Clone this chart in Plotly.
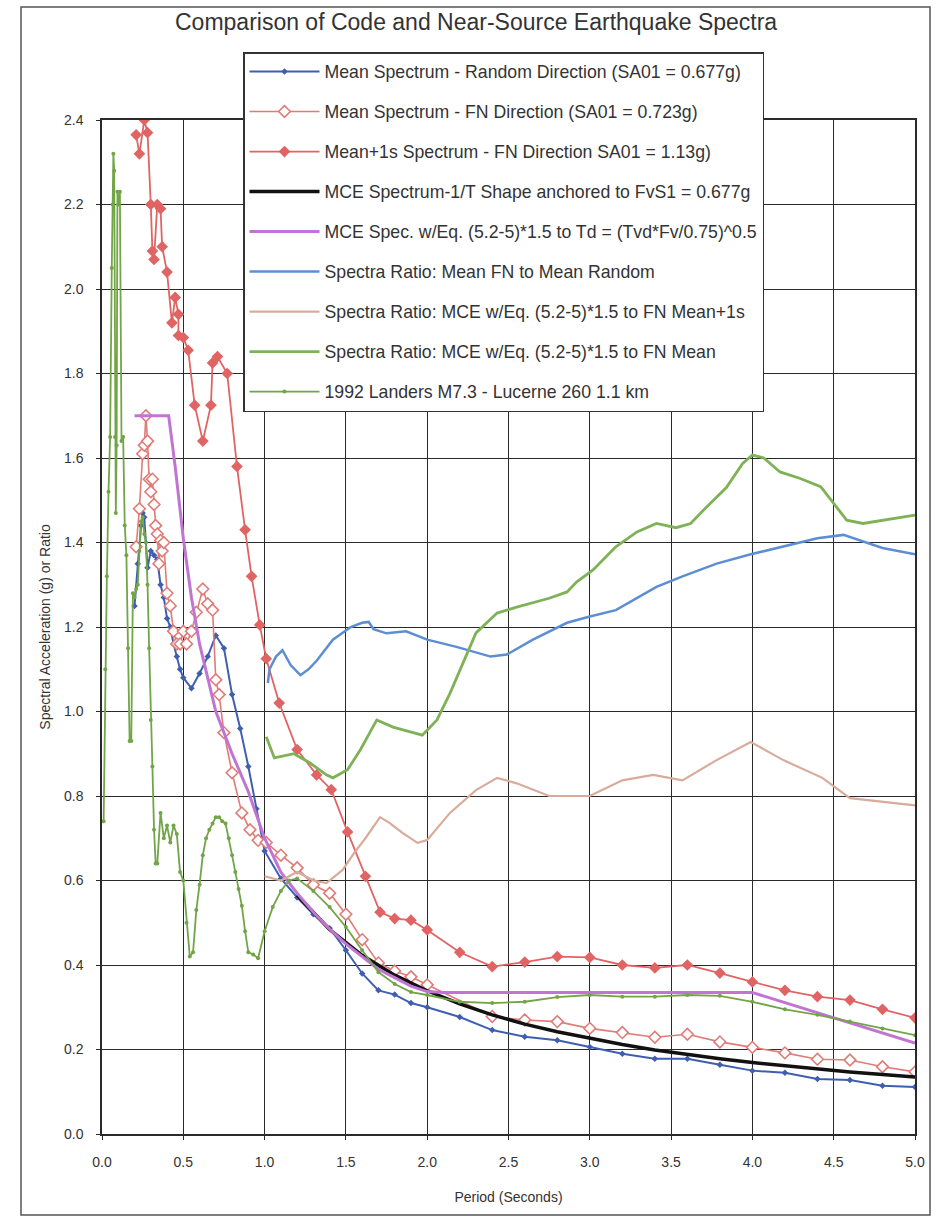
import plotly.graph_objects as go

# ---------------- data ----------------
T_rand = [0.20, 0.22, 0.24, 0.25, 0.26, 0.28, 0.30, 0.32, 0.34, 0.36, 0.38, 0.40, 0.42, 0.44, 0.46, 0.48,
          0.50, 0.55, 0.60, 0.65, 0.70, 0.75, 0.80, 0.85, 0.90, 0.95, 1.0, 1.1, 1.2, 1.3, 1.4, 1.5, 1.6,
          1.7, 1.8, 1.9, 2.0, 2.2, 2.4, 2.6, 2.8, 3.0, 3.2, 3.4, 3.6, 3.8, 4.0, 4.2, 4.4, 4.6, 4.8, 5.0]
SA_rand = [1.25, 1.35, 1.44, 1.47, 1.46, 1.34, 1.38, 1.37, 1.36, 1.30, 1.27, 1.22, 1.20, 1.16, 1.13, 1.10,
           1.08, 1.055, 1.09, 1.13, 1.18, 1.15, 1.04, 0.96, 0.87, 0.77, 0.67, 0.605, 0.56, 0.52, 0.487, 0.435, 0.38,
           0.34, 0.33, 0.31, 0.30, 0.277, 0.246, 0.23, 0.222, 0.206, 0.19, 0.178, 0.178, 0.164, 0.15, 0.145, 0.13, 0.128, 0.114, 0.111]

T_fn = [0.21, 0.23, 0.25, 0.26, 0.27, 0.28, 0.29, 0.30, 0.31, 0.32, 0.33, 0.34, 0.35, 0.36, 0.37, 0.38,
        0.40, 0.42, 0.44, 0.46, 0.48, 0.50, 0.52, 0.55, 0.58, 0.62, 0.65, 0.68, 0.70, 0.72, 0.75, 0.80,
        0.86, 0.91, 0.96, 1.01, 1.1, 1.2, 1.3, 1.4, 1.5, 1.6, 1.7, 1.8, 1.9, 2.0, 2.4, 2.6, 2.8, 3.0,
        3.2, 3.4, 3.6, 3.8, 4.0, 4.2, 4.4, 4.6, 4.8, 5.0]
SA_fn = [1.39, 1.48, 1.61, 1.63, 1.70, 1.64, 1.55, 1.52, 1.55, 1.49, 1.44, 1.42, 1.35, 1.405, 1.38, 1.40,
         1.28, 1.25, 1.19, 1.16, 1.16, 1.19, 1.16, 1.19, 1.235, 1.29, 1.255, 1.24, 1.075, 1.04, 0.95, 0.855,
         0.76, 0.72, 0.695, 0.69, 0.66, 0.63, 0.59, 0.57, 0.52, 0.46, 0.405, 0.386, 0.372, 0.353, 0.278, 0.27, 0.266, 0.25,
         0.24, 0.229, 0.236, 0.218, 0.205, 0.192, 0.177, 0.175, 0.159, 0.147]

T_p1s = [0.21, 0.23, 0.26, 0.28, 0.30, 0.31, 0.32, 0.34, 0.36, 0.37, 0.40, 0.43, 0.45, 0.47, 0.47, 0.50,
         0.53, 0.57, 0.62, 0.67, 0.68, 0.71, 0.77, 0.83, 0.88, 0.92, 0.97, 1.01, 1.09, 1.2, 1.32, 1.41,
         1.51, 1.62, 1.71, 1.8, 1.9, 2.0, 2.2, 2.4, 2.6, 2.8, 3.0, 3.2, 3.4, 3.6, 3.8, 4.0, 4.2, 4.4, 4.6, 4.8, 5.0]
SA_p1s = [2.365, 2.32, 2.40, 2.37, 2.20, 2.09, 2.07, 2.20, 2.19, 2.10, 2.04, 1.92, 1.98, 1.94, 1.89, 1.885,
          1.855, 1.725, 1.64, 1.725, 1.825, 1.84, 1.80, 1.58, 1.43, 1.32, 1.205, 1.125, 1.02, 0.91, 0.85, 0.815,
          0.715, 0.61, 0.525, 0.51, 0.506, 0.483, 0.43, 0.396, 0.407, 0.42, 0.418, 0.40, 0.393, 0.40, 0.381, 0.36,
          0.34, 0.325, 0.317, 0.295, 0.275]

T_mce = [1.2, 1.4, 1.6, 1.8, 2.0, 2.2, 2.4, 2.6, 2.8, 3.0, 3.2, 3.4, 3.6, 3.8, 4.0, 4.2, 4.4, 4.6, 4.8, 5.0]
SA_mce = [0.565, 0.484, 0.423, 0.376, 0.339, 0.308, 0.282, 0.26, 0.242, 0.226, 0.212, 0.199, 0.188, 0.178,
          0.169, 0.161, 0.154, 0.147, 0.141, 0.135]

T_eq = [0.20, 0.41, 0.45, 0.50, 0.55, 0.60, 0.70, 0.80, 0.90, 1.0, 1.1, 1.2, 1.3, 1.4, 1.5, 1.6, 1.7, 1.8,
        1.9, 2.0, 2.1, 4.0, 4.5, 5.0]
SA_eq = [1.70, 1.70, 1.58, 1.41, 1.27, 1.16, 1.0, 0.90, 0.81, 0.70, 0.62, 0.57, 0.525, 0.485, 0.45, 0.42,
         0.39, 0.37, 0.35, 0.337, 0.335, 0.335, 0.275, 0.215]

T_r1 = [1.02, 1.03, 1.07, 1.11, 1.16, 1.22, 1.27, 1.32, 1.42, 1.53, 1.60, 1.64, 1.67, 1.75, 1.87, 2.0,
        2.18, 2.39, 2.49, 2.65, 2.86, 3.0, 3.16, 3.41, 3.57, 3.78, 3.99, 4.19, 4.4, 4.56, 4.66, 4.8, 5.0]
R_fn_rand = [1.067, 1.10, 1.13, 1.145, 1.11, 1.086, 1.10, 1.12, 1.17, 1.20, 1.21, 1.212, 1.195, 1.185, 1.19, 1.17,
             1.153, 1.13, 1.135, 1.17, 1.21, 1.225, 1.24, 1.295, 1.32, 1.35, 1.372, 1.39, 1.41, 1.418, 1.405, 1.387, 1.372]

T_r2 = [1.0, 1.1, 1.2, 1.3, 1.38, 1.48, 1.55, 1.62, 1.71, 1.77, 1.85, 1.94, 2.0, 2.14, 2.3, 2.43, 2.55,
        2.75, 3.0, 3.2, 3.39, 3.57, 3.78, 3.99, 4.19, 4.43, 4.6, 4.8, 5.0]
R_mce_p1s = [0.61, 0.60, 0.62, 0.60, 0.594, 0.625, 0.665, 0.70, 0.75, 0.736, 0.712, 0.689, 0.696, 0.76, 0.814,
             0.843, 0.83, 0.80, 0.80, 0.837, 0.85, 0.837, 0.885, 0.928, 0.885, 0.843, 0.795, 0.786, 0.778]

T_r3 = [1.01, 1.06, 1.18, 1.28, 1.38, 1.42, 1.51, 1.59, 1.69, 1.79, 1.97, 2.06, 2.14, 2.3, 2.43, 2.55, 2.75,
        2.86, 2.92, 3.02, 3.16, 3.29, 3.41, 3.53, 3.62, 3.7, 3.84, 3.94, 4.0, 4.07, 4.17, 4.29, 4.42, 4.5,
        4.58, 4.68, 4.8, 5.0]
R_mce_fn = [0.94, 0.89, 0.90, 0.878, 0.85, 0.843, 0.862, 0.91, 0.98, 0.963, 0.944, 0.98, 1.043, 1.186, 1.233,
            1.247, 1.268, 1.283, 1.307, 1.335, 1.39, 1.425, 1.445, 1.435, 1.445, 1.477, 1.53, 1.587, 1.607, 1.60,
            1.567, 1.552, 1.532, 1.493, 1.453, 1.445, 1.453, 1.465]

T_land = [0.01, 0.02, 0.03, 0.04, 0.05, 0.06, 0.065, 0.07, 0.075, 0.08, 0.085, 0.09, 0.095, 0.10, 0.11, 0.12,
          0.13, 0.14, 0.15, 0.16, 0.17, 0.18, 0.19, 0.20, 0.21, 0.22, 0.23, 0.24, 0.25, 0.26, 0.27, 0.28,
          0.29, 0.30, 0.31, 0.32, 0.33, 0.34, 0.36, 0.38, 0.40, 0.42, 0.44, 0.46, 0.48, 0.50, 0.52, 0.54,
          0.56, 0.58, 0.60, 0.62, 0.64, 0.66, 0.68, 0.70, 0.72, 0.74, 0.76, 0.78, 0.80, 0.82, 0.84, 0.86,
          0.88, 0.90, 0.93, 0.96, 1.0, 1.05, 1.1, 1.15, 1.2, 1.3, 1.4, 1.5, 1.6, 1.7, 1.8, 1.9, 2.0, 2.2,
          2.4, 2.6, 2.8, 3.0, 3.2, 3.4, 3.6, 3.8, 4.0, 4.2, 4.4, 4.6, 4.8, 5.0]
SA_land = [0.74, 1.10, 1.32, 1.52, 1.65, 2.05, 2.20, 2.32, 2.28, 1.65, 1.47, 1.63, 2.23, 2.20, 2.23, 1.64,
           1.65, 1.44, 1.37, 1.15, 0.93, 0.93, 1.28, 1.27, 1.29, 1.30, 1.38, 1.45, 1.46, 1.42, 1.40, 1.30,
           1.15, 0.98, 0.87, 0.72, 0.64, 0.64, 0.76, 0.70, 0.73, 0.69, 0.73, 0.71, 0.62, 0.60, 0.50, 0.42,
           0.43, 0.53, 0.59, 0.66, 0.70, 0.72, 0.735, 0.75, 0.75, 0.74, 0.735, 0.70, 0.66, 0.62, 0.58, 0.54,
           0.48, 0.43, 0.425, 0.416, 0.48, 0.537, 0.575, 0.60, 0.605, 0.575, 0.537, 0.49, 0.435, 0.383, 0.355,
           0.336, 0.329, 0.313, 0.31, 0.313, 0.324, 0.329, 0.325, 0.325, 0.329, 0.327, 0.313, 0.295, 0.282,
           0.266, 0.25, 0.234]

names = [
    "Mean Spectrum - Random Direction (SA01 = 0.677g)",
    "Mean Spectrum - FN Direction (SA01 = 0.723g)",
    "Mean+1s Spectrum - FN Direction SA01 = 1.13g)",
    "MCE Spectrum-1/T Shape anchored to FvS1 = 0.677g",
    "MCE Spec. w/Eq. (5.2-5)*1.5 to Td = (Tvd*Fv/0.75)^0.5",
    "Spectra Ratio: Mean FN to Mean Random",
    "Spectra Ratio: MCE w/Eq. (5.2-5)*1.5 to FN Mean+1s",
    "Spectra Ratio: MCE w/Eq. (5.2-5)*1.5 to FN Mean",
    "1992 Landers M7.3 - Lucerne 260 1.1 km",
]

x_ticks = [0.0, 0.5, 1.0, 1.5, 2.0, 2.5, 3.0, 3.5, 4.0, 4.5, 5.0]
y_ticks = [0.0, 0.2, 0.4, 0.6, 0.8, 1.0, 1.2, 1.4, 1.6, 1.8, 2.0, 2.2, 2.4]

# ---------------- figure ----------------
fig = go.Figure()

def add(x, y, name, i, color, width, marker=None):
    kw = dict(x=x, y=y, name=name, legendgroup=str(i), line=dict(color=color, width=width))
    if marker:
        kw["mode"] = "lines+markers"
        kw["marker"] = marker
    else:
        kw["mode"] = "lines"
    fig.add_trace(go.Scatter(**kw))

add(T_rand, SA_rand, names[0], 0, "#3F5FAE", 2, dict(symbol="diamond", size=5, color="#3F5FAE"))
add(T_fn, SA_fn, names[1], 1, "#E07C78", 1.6,
    dict(symbol="diamond", size=9, color="white", line=dict(color="#E07C78", width=1.6)))
add(T_p1s, SA_p1s, names[2], 2, "#E06464", 1.8, dict(symbol="diamond", size=9, color="#E06464"))
add(T_mce, SA_mce, names[3], 3, "#111111", 3.5)
add(T_eq, SA_eq, names[4], 4, "#C274D2", 3)
add(T_r1, R_fn_rand, names[5], 5, "#5D8ED4", 2.5)
add(T_r2, R_mce_p1s, names[6], 6, "#D9AB9A", 2.2)
add(T_r3, R_mce_fn, names[7], 7, "#7FB257", 2.8)
add(T_land, SA_land, names[8], 8, "#72A547", 1.8, dict(symbol="circle", size=4, color="#72A547"))

L, R, Tm, B = 102, 24, 120, 88
W, H = 939, 1222
pw, ph = W - L - R, H - Tm - B

def px(xp):
    return (xp - L) / pw

def py(yp):
    return (H - B - yp) / ph

FONT = "Liberation Sans, Arial"
axis_common = dict(showgrid=True, gridcolor="#2a2a2a", gridwidth=1, showline=True, linecolor="#2a2a2a",
                   linewidth=1.5, mirror=True, ticks="outside", ticklen=4, tickcolor="#2a2a2a",
                   zeroline=False, tickfont=dict(family=FONT, size=14, color="#333"))

fig.update_layout(
    width=W, height=H,
    margin=dict(l=L, r=R, t=Tm, b=B),
    paper_bgcolor="white", plot_bgcolor="white",
    title=dict(text="Comparison of Code and Near-Source Earthquake Spectra", x=0.507, xanchor="center",
               y=1 - 22 / H, yanchor="middle",
               font=dict(family=FONT, size=23, color="#333")),
    xaxis=dict(range=[0, 5], tickvals=x_ticks, ticktext=[f"{v:.1f}" for v in x_ticks],
               ticklabelstandoff=10,
               title=dict(text="Period (Seconds)", standoff=24,
                          font=dict(family=FONT, size=14, color="#333")),
               **axis_common),
    yaxis=dict(range=[0, 2.4], tickvals=y_ticks, ticktext=[f"{v:.1f}" for v in y_ticks],
               ticklabelstandoff=10,
               title=dict(text="Spectral Acceleration (g) or Ratio", standoff=10,
                          font=dict(family=FONT, size=14, color="#333")),
               **axis_common),
    legend=dict(x=px(243), y=py(52), xanchor="left", yanchor="top", bgcolor="white",
                bordercolor="#333", borderwidth=1.5, itemwidth=70, tracegroupgap=14,
                font=dict(family=FONT, size=17.7, color="#333")),
    showlegend=True,
    shapes=[dict(type="rect", xref="paper", yref="paper", x0=px(21), x1=px(930), y0=py(1215), y1=py(7),
                 line=dict(color="#555", width=1.5), layer="below")],
)

fig.write_html("out.html")
